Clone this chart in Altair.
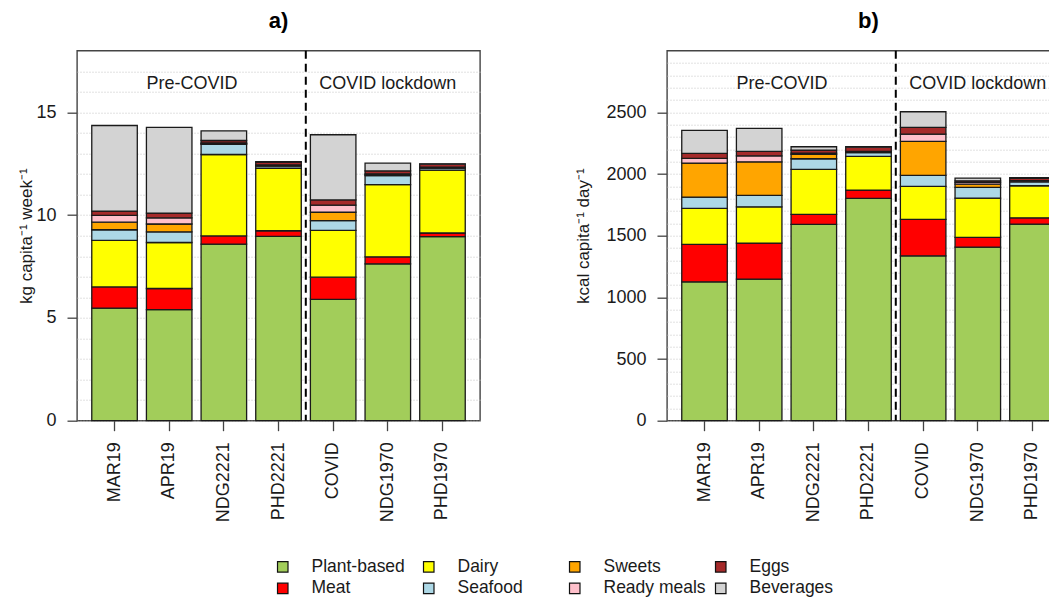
import altair as alt
import pandas as pd

categories = ["MAR19", "APR19", "NDG2221", "PHD2221", "COVID", "NDG1970", "PHD1970"]
food_groups = ["Plant-based", "Meat", "Dairy", "Seafood", "Sweets", "Ready meals", "Eggs", "Beverages"]
group_colors = ["#A2CD5A", "#FF0000", "#FFFF00", "#ADD8E6", "#FFA500", "#FFC0CB", "#A52A2A", "#D3D3D3"]

# panel a) kg capita-1 week-1
kg_plant_based = [5.48, 5.40, 8.59, 8.97, 5.90, 7.63, 8.95]
kg_meat = [1.03, 1.03, 0.40, 0.27, 1.08, 0.34, 0.18]
kg_dairy = [2.26, 2.24, 3.96, 3.04, 2.28, 3.51, 3.06]
kg_seafood = [0.52, 0.52, 0.49, 0.10, 0.47, 0.44, 0.10]
kg_sweets = [0.37, 0.38, 0.04, 0.03, 0.41, 0.05, 0.02]
kg_ready_meals = [0.33, 0.30, 0.03, 0.03, 0.35, 0.04, 0.02]
kg_eggs = [0.21, 0.23, 0.12, 0.14, 0.25, 0.14, 0.15]
kg_beverages = [4.16, 4.17, 0.47, 0.02, 3.17, 0.38, 0.01]

# panel b) kcal capita-1 day-1
kcal_plant_based = [1126, 1148, 1592, 1802, 1337, 1408, 1594]
kcal_meat = [303, 292, 81, 68, 295, 78, 51]
kcal_dairy = [292, 294, 365, 273, 268, 319, 260]
kcal_seafood = [92, 93, 86, 30, 89, 87, 32]
kcal_sweets = [276, 272, 35, 6, 276, 26, 5]
kcal_ready_meals = [38, 49, 11, 5, 59, 14, 5]
kcal_eggs = [40, 36, 24, 34, 54, 13, 18]
kcal_beverages = [187, 186, 27, 3, 127, 22, 5]

period_labels = ["Pre-COVID", "COVID lockdown"]

kg_series = [kg_plant_based, kg_meat, kg_dairy, kg_seafood, kg_sweets, kg_ready_meals, kg_eggs, kg_beverages]
kcal_series = [kcal_plant_based, kcal_meat, kcal_dairy, kcal_seafood, kcal_sweets, kcal_ready_meals, kcal_eggs, kcal_beverages]


def long_table(series):
    rows = []
    for gi, (g, vals) in enumerate(zip(food_groups, series)):
        for c, v in zip(categories, vals):
            rows.append({"cat": c, "group": g, "value": v, "order": gi})
    return pd.DataFrame(rows)


FONT = "Liberation Sans"
TXT = "#1a1a1a"
AX = "#444444"


def panel(df, ymax, grid_step, label_step, ytitle, text_y, title, title_pad, show_legend):
    xscale = alt.Scale(paddingInner=0.167, paddingOuter=0.27)
    x_enc = alt.X(
        "cat:N", sort=categories, scale=xscale,
        axis=alt.Axis(title=None, labelAngle=270, labelFontSize=18, labelColor=TXT,
                      labelPadding=11, tickSize=10, tickColor=AX, tickWidth=1.3,
                      domain=False, grid=False, labelFont=FONT),
    )
    grid_values = list(range(0, ymax, grid_step))
    test = f"datum.value % {label_step} === 0"
    y_enc = alt.Y(
        "value:Q", stack="zero",
        scale=alt.Scale(domain=[0, ymax], nice=False, zero=True),
        axis=alt.Axis(
            values=grid_values, tickCount=len(grid_values) + 5, format="d",
            grid=True, gridColor="#c4c4c4", gridDash=[1, 2], gridWidth=1,
            domain=False, tickSize=10, tickColor=AX, tickWidth=1.3,
            tickOpacity={"condition": {"test": test, "value": 1}, "value": 0},
            labelExpr=f"({test}) ? datum.label : ''", labelOverlap=False,
            labelFontSize=18, labelColor=TXT, labelPadding=11, labelFont=FONT,
            title=ytitle, titleFontSize=17, titleFontWeight="normal", titleColor=TXT,
            titleFont=FONT, titlePadding=title_pad,
        ),
    )
    legend = None
    if show_legend:
        legend = alt.Legend(
            title=None, orient="none", legendX=197, legendY=507, columns=4,
            gridAlign="all", columnPadding=6, rowPadding=3, padding=0,
            symbolType="square", symbolSize=110, symbolStrokeColor="#111111",
            symbolStrokeWidth=1.2, labelFontSize=17.5, labelFont=FONT,
            labelColor=TXT, labelOffset=20, labelLimit=200,
        )
    color_enc = alt.Color(
        "group:N",
        scale=alt.Scale(domain=food_groups, range=group_colors),
        legend=legend,
    )
    bars = alt.Chart(df).mark_bar(stroke="#1a1a1a", strokeWidth=1.3).encode(
        x=x_enc, y=y_enc, color=color_enc,
        order=alt.Order("order:Q", sort="ascending"),
    )
    split = alt.Chart(pd.DataFrame({"cat": ["COVID"]})).mark_rule(
        color="black", strokeWidth=2, strokeDash=[8, 5], xOffset=-4.6
    ).encode(x=alt.X("cat:N", sort=categories, bandPosition=0))
    pre = alt.Chart(pd.DataFrame({"cat": ["APR19"], "y": [text_y], "t": [period_labels[0]]})).mark_text(
        fontSize=18, font=FONT, color=TXT
    ).encode(x=alt.X("cat:N", sort=categories, bandPosition=1), y="y:Q", text="t:N")
    post = alt.Chart(pd.DataFrame({"cat": ["NDG1970"], "y": [text_y], "t": [period_labels[1]]})).mark_text(
        fontSize=18, font=FONT, color=TXT
    ).encode(x=alt.X("cat:N", sort=categories, bandPosition=0.5), y="y:Q", text="t:N")
    return alt.layer(bars, split, pre, post).properties(
        width=403, height=370,
        title=alt.TitleParams(title, fontSize=22, fontWeight="bold", font=FONT, color="black",
                              anchor="middle", frame="group", offset=16.3),
    )


chart_a = panel(long_table(kg_series), 18, 1, 5, "kg capita⁻¹ week⁻¹", 16.4, "a)", 0, True)
chart_b = panel(long_table(kcal_series), 3000, 100, 500, "kcal capita⁻¹ day⁻¹", 2730, "b)", 13, False)

chart = alt.hconcat(chart_a, chart_b, spacing=93).resolve_scale(
    x="independent", y="independent", color="shared"
).configure(
    font=FONT, padding={"left": 9, "top": 1.7, "right": -22, "bottom": 0}
).configure_view(stroke=AX, strokeWidth=1.4)

chart.save("out.html", embed_options={"renderer": "svg", "actions": False})
